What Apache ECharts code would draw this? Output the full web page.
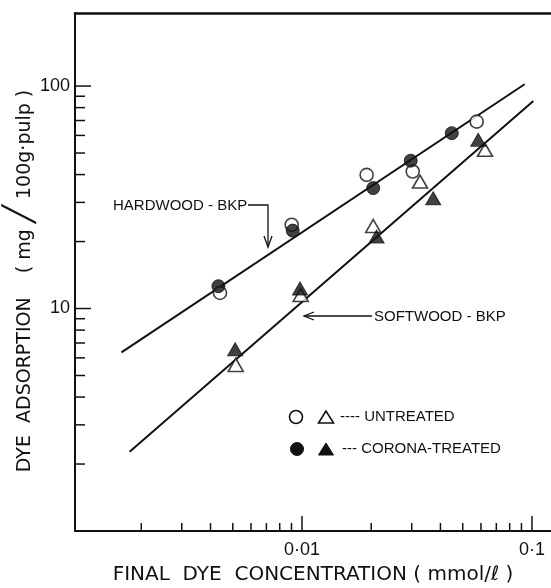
<!DOCTYPE html>
<html><head><meta charset="utf-8">
<script src="https://cdn.jsdelivr.net/npm/echarts@6/dist/echarts.min.js"></script>
<style>html,body{margin:0;padding:0;background:#fff}#c{width:551px;height:588px}</style>
</head><body><div id="c"></div>
<script>
// ---- data ----
const hardUntreatedX = [0.0044, 0.00902, 0.0191, 0.0303, 0.0575];
const hardUntreatedY = [11.75, 23.8, 39.9, 41.3, 69.2];
const hardCoronaX = [0.00433, 0.00911, 0.0204, 0.0297, 0.0448];
const hardCoronaY = [12.6, 22.4, 34.8, 46.2, 61.4];
const softUntreatedX = [0.00515, 0.00987, 0.0204, 0.0326, 0.0625];
const softUntreatedY = [5.58, 11.5, 23.5, 37.2, 51.7];
const softCoronaX = [0.00512, 0.0098, 0.0211, 0.0372, 0.0584];
const softCoronaY = [6.56, 12.3, 21.05, 31.3, 57.3];
const hardFitX = [0.00164, 0.0929];
const hardFitY = [6.35, 101.9];
const softFitX = [0.00178, 0.1014];
const softFitY = [2.27, 85.6];
const xMajorTicks = [0.01, 0.1];
const xTickLabels = ['0·01', '0·1'];
const xMinorTicks = [0.002,0.003,0.004,0.005,0.006,0.007,0.008,0.009,0.02,0.03,0.04,0.05,0.06,0.07,0.08,0.09];
const yMajorTicks = [10, 100];
const yTickLabels = ['10', '100'];
const yMinorTicks = [2,3,4,5,6,7,8,9,20,30,40,50,60,70,80,90];
const X_MIN = 0.00103, X_MAX = 0.121, Y_MIN = 1, Y_MAX = 213;

const zip = (xs, ys) => xs.map((x, i) => [x, ys[i]]);
function labelFor(v, ticks, labels) {
  for (let i = 0; i < ticks.length; i++) if (Math.abs(v - ticks[i]) / ticks[i] < 1e-6) return labels[i];
  return '';
}
function tickSeries(vals, axis, len) {
  return {
    type: 'custom', silent: true, clip: false, z: 6,
    data: vals.map(v => axis === 'x' ? [v, Y_MIN] : [X_MIN, v]),
    renderItem: function (params, api) {
      const p = api.coord([api.value(0), api.value(1)]);
      const shape = axis === 'x'
        ? { x1: p[0], y1: p[1], x2: p[0], y2: p[1] - len }
        : { x1: p[0], y1: p[1], x2: p[0] + len, y2: p[1] };
      return { type: 'line', shape: shape, style: { stroke: '#111', lineWidth: 1.5 } };
    }
  };
}
const FONT = 'Liberation Sans';
const chart = echarts.init(document.getElementById('c'), null, { renderer: 'canvas' });
const openStyle = { color: '#fff', borderColor: '#111', borderWidth: 1.6 };
const fillStyle = { color: '#111', borderColor: '#111', borderWidth: 1 };
chart.setOption({
  animation: false,
  backgroundColor: '#fff',
  grid: { left: 75, top: 13, right: 0, bottom: 57, containLabel: false, outerBoundsMode: 'none' },
  xAxis: [{
    type: 'log', logBase: 10, min: X_MIN, max: X_MAX, position: 'bottom',
    axisLine: { lineStyle: { color: '#111', width: 2 } },
    axisTick: { show: false }, splitLine: { show: false }, minorTick: { show: false },
    axisLabel: { showMinLabel: false, showMaxLabel: false, margin: 10, color: '#111', fontFamily: FONT, fontSize: 18,
      formatter: v => labelFor(v, xMajorTicks, xTickLabels) },
    name: 'FINAL  DYE  CONCENTRATION ( mmol/ℓ )', nameLocation: 'middle', nameGap: 34,
    nameTextStyle: { color: '#111', fontFamily: 'DejaVu Sans', fontSize: 20 }
  }, {
    type: 'log', logBase: 10, min: X_MIN, max: X_MAX, position: 'top',
    axisLine: { lineStyle: { color: '#111', width: 2.5 } },
    axisTick: { show: false }, axisLabel: { show: false }, splitLine: { show: false }
  }],
  yAxis: {
    type: 'log', logBase: 10, min: Y_MIN, max: Y_MAX,
    axisLine: { lineStyle: { color: '#111', width: 2 } },
    axisTick: { show: false }, splitLine: { show: false }, minorTick: { show: false },
    axisLabel: { showMinLabel: false, showMaxLabel: false, margin: 5, color: '#111', fontFamily: FONT, fontSize: 18,
      formatter: v => labelFor(v, yMajorTicks, yTickLabels) }
  },
  series: [
    { type: 'line', data: zip(hardFitX, hardFitY), showSymbol: false, lineStyle: { color: '#111', width: 2 }, z: 2 },
    { type: 'line', data: zip(softFitX, softFitY), showSymbol: false, lineStyle: { color: '#111', width: 2 }, z: 2 },
    { type: 'scatter', data: zip(hardUntreatedX, hardUntreatedY), symbol: 'circle', symbolSize: 13, itemStyle: openStyle, z: 3 },
    { type: 'scatter', data: zip(softUntreatedX, softUntreatedY), symbol: 'triangle', symbolSize: [15, 13], itemStyle: openStyle, z: 3 },
    { type: 'scatter', data: zip(hardCoronaX, hardCoronaY), symbol: 'circle', symbolSize: 13, itemStyle: fillStyle, z: 4 },
    { type: 'scatter', data: zip(softCoronaX, softCoronaY), symbol: 'triangle', symbolSize: [15, 13], itemStyle: fillStyle, z: 4 },
    tickSeries(xMinorTicks, 'x', 8),
    tickSeries(xMajorTicks, 'x', 15),
    tickSeries(yMinorTicks, 'y', 10),
    tickSeries(yMajorTicks, 'y', 16)
  ],
  graphic: [
    // y-axis title (rotated)
    { type: 'text', x: 25, y: 281, rotation: Math.PI / 2,
      style: { text: '{a|DYE  ADSORPTION    ( mg }{b|╱}{a| 100g·pulp )}', align: 'center', verticalAlign: 'middle',
        rich: {
          a: { fill: '#111', fontFamily: 'DejaVu Sans', fontSize: 19, verticalAlign: 'middle' },
          b: { fill: '#111', fontFamily: 'DejaVu Sans', fontSize: 30, verticalAlign: 'middle', padding: [0, 0, 8, 0] } } } },
    { type: 'text', left: 113, top: 198, style: { text: 'HARDWOOD - BKP', font: '15px "Liberation Sans"', fill: '#111' } },
    { type: 'polyline', shape: { points: [[248, 205], [268, 205], [268, 247]] }, style: { stroke: '#111', lineWidth: 1.3, fill: null } },
    { type: 'polyline', shape: { points: [[264, 236], [268, 247], [272, 236]] }, style: { stroke: '#111', lineWidth: 1.3, fill: null } },
    { type: 'text', left: 374, top: 309, style: { text: 'SOFTWOOD - BKP', font: '15px "Liberation Sans"', fill: '#111' } },
    { type: 'line', shape: { x1: 372, y1: 316, x2: 304, y2: 316 }, style: { stroke: '#111', lineWidth: 1.3 } },
    { type: 'polyline', shape: { points: [[314, 312], [304, 316], [314, 320]] }, style: { stroke: '#111', lineWidth: 1.3, fill: null } },
    // legend
    { type: 'circle', shape: { cx: 296, cy: 417, r: 6.5 }, style: { fill: '#fff', stroke: '#111', lineWidth: 1.6 } },
    { type: 'polygon', shape: { points: [[326, 411], [318.5, 423], [333.5, 423]] }, style: { fill: '#fff', stroke: '#111', lineWidth: 1.6 } },
    { type: 'text', left: 340, top: 409, style: { text: '---- UNTREATED', font: '15px "Liberation Sans"', fill: '#111' } },
    { type: 'circle', shape: { cx: 297, cy: 449, r: 6.5 }, style: { fill: '#111', stroke: '#111', lineWidth: 1 } },
    { type: 'polygon', shape: { points: [[326, 443], [318.5, 455], [333.5, 455]] }, style: { fill: '#111', stroke: '#111', lineWidth: 1 } },
    { type: 'text', left: 342, top: 441, style: { text: '--- CORONA-TREATED', font: '15px "Liberation Sans"', fill: '#111' } }
  ]
});
</script></body></html>
